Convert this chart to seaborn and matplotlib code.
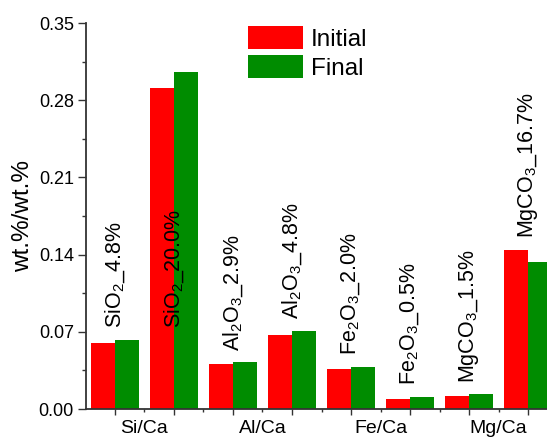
import numpy as np
import pandas as pd
import matplotlib
matplotlib.use('Agg')
import matplotlib.pyplot as plt
import seaborn as sns

# values
pairs = ['SiO$_2$_4.8%', 'SiO$_2$_20.0%', 'Al$_2$O$_3$_2.9%', 'Al$_2$O$_3$_4.8%',
         'Fe$_2$O$_3$_2.0%', 'Fe$_2$O$_3$_0.5%', 'MgCO$_3$_1.5%', 'MgCO$_3$_16.7%']
initial = [0.0596, 0.2913, 0.0405, 0.0668, 0.0360, 0.0091, 0.0115, 0.1445]
final = [0.0626, 0.3053, 0.0423, 0.0707, 0.0381, 0.0109, 0.0133, 0.1336]
ratios = ['Si/Ca', 'Al/Ca', 'Fe/Ca', 'Mg/Ca']
yticks = [0.00, 0.07, 0.14, 0.21, 0.28, 0.35]

df = pd.DataFrame({
    'sample': pairs * 2,
    'value': initial + final,
    'state': ['Initial'] * len(pairs) + ['Final'] * len(pairs),
})

sns.set_style('ticks')
plt.rcParams['font.family'] = ['Liberation Sans', 'DejaVu Sans']
plt.rcParams['mathtext.fontset'] = 'custom'
plt.rcParams['mathtext.rm'] = 'Liberation Sans'
plt.rcParams['mathtext.it'] = 'Liberation Sans:italic'
plt.rcParams['mathtext.default'] = 'regular'
plt.rcParams['text.color'] = 'black'
plt.rcParams['axes.labelcolor'] = 'black'
plt.rcParams['xtick.labelcolor'] = 'black'
plt.rcParams['ytick.labelcolor'] = 'black'

fig = plt.figure(figsize=(5.47, 4.38), dpi=100)
ax = fig.add_axes([86 / 547, 1 - 409 / 438, (547 - 86) / 547, 386 / 438])

sns.barplot(data=df, x='sample', y='value', hue='state', order=pairs,
            palette={'Initial': '#FF0000', 'Final': '#008C00'},
            width=0.81, linewidth=0, saturation=1, ax=ax)

# rotated labels above each pair (the 20% one sits inside its bars)
for i, lab in enumerate(pairs):
    j = 0 if i == 1 else i
    base = max(initial[j], final[j])
    ax.annotate(lab, (i, base), xytext=(0, 8.5), textcoords='offset points',
                rotation=90, ha='center', va='bottom', fontsize=15.5, color='black')

ax.set_xlim(-0.49, 7.32)
ax.set_ylim(0, 0.35)
ax.set_yticks(yticks)
ax.set_yticklabels([f'{t:.2f}' for t in yticks])
ax.set_yticks(np.arange(0.035, 0.35, 0.07), minor=True)

ax.set_xticks(range(len(pairs)))
ax.set_xticklabels([])
ax.set_xticks(np.arange(0.5, 7, 1), minor=True)
ax.set_xticklabels(['Si/Ca', '', 'Al/Ca', '', 'Fe/Ca', '', 'Mg/Ca'], minor=True)

ax.set_xlabel('')
ax.set_ylabel('wt.%/wt.%', fontsize=17.5, labelpad=3)

for s in ['top', 'right']:
    ax.spines[s].set_visible(False)
for s in ['left', 'bottom']:
    ax.spines[s].set_color('#333333')
    ax.spines[s].set_linewidth(1.3)

ax.tick_params(axis='y', which='major', length=5.8, width=1, labelsize=13, pad=3,
               color='#333333', labelcolor='black')
ax.tick_params(axis='y', which='minor', length=3, width=1, color='#333333')
ax.tick_params(axis='x', which='major', length=4.3, width=1, color='#333333')
ax.tick_params(axis='x', which='minor', length=2, width=1, labelsize=14, pad=6,
               color='#333333', labelcolor='black')

ax.legend(loc='upper left', bbox_to_anchor=(248 / 547, 1 - 26 / 438),
          bbox_transform=fig.transFigure, frameon=False, fontsize=17.5,
          handlelength=2.25, handleheight=1.1, labelspacing=0.15,
          handletextpad=0.33, borderpad=0, borderaxespad=0)

fig.savefig('out.png', dpi=100)
